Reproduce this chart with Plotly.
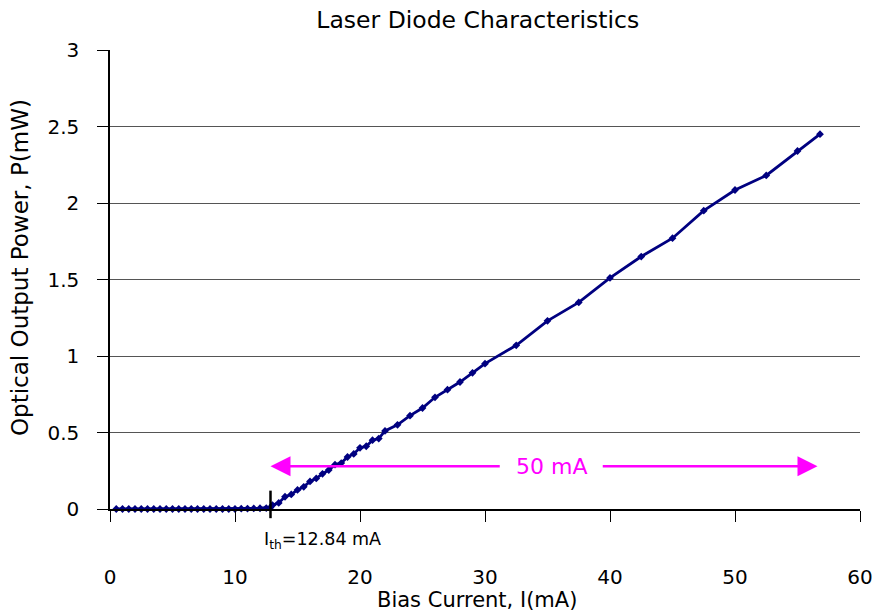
import plotly.graph_objects as go

# Bias current (mA) and optical output power (mW)
current_mA = [0.5, 1.0, 1.5, 2.0, 2.5, 3.0, 3.5, 4.0, 4.5, 5.0, 5.5, 6.0, 6.5, 7.0,
              7.5, 8.0, 8.5, 9.0, 9.5, 10.0, 10.5, 11.0, 11.5, 12.0, 12.5, 12.84,
              13.0, 13.5, 14.0, 14.5, 15.0, 15.5, 16.0, 16.5, 17.0, 17.5, 18.0, 18.5,
              19.0, 19.5, 20.0, 20.5, 21.0, 21.5, 22.0, 23.0, 24.0, 25.0, 26.0, 27.0,
              28.0, 29.0, 30.0, 32.5, 35.0, 37.5, 40.0, 42.5, 45.0, 47.5, 50.0, 52.5,
              55.0, 56.8]
power_mW = [0, 0, 0, 0, 0, 0, 0, 0, 0, 0, 0, 0, 0, 0,
            0, 0, 0, 0, 0, 0, 0.002, 0.003, 0.004, 0.005, 0.006, 0.01,
            0.025, 0.04, 0.08, 0.095, 0.125, 0.145, 0.18, 0.2, 0.23, 0.255, 0.29, 0.30,
            0.34, 0.36, 0.40, 0.41, 0.45, 0.46, 0.51, 0.55, 0.61, 0.66, 0.73, 0.78,
            0.83, 0.89, 0.95, 1.07, 1.23, 1.35, 1.51, 1.65, 1.77, 1.95, 2.085, 2.18,
            2.34, 2.45]

x_ticks = [0, 10, 20, 30, 40, 50, 60]
y_ticks = [0, 0.5, 1, 1.5, 2, 2.5, 3]
y_tick_text = ["0", "0.5", "1", "1.5", "2", "2.5", "3"]

threshold_mA = 12.84
span_end_mA = 56.6
span_y = 0.28
span_label_x = 35.3

FONT = "DejaVu Sans, Liberation Sans, Arial, sans-serif"
NAVY = "#000080"
MAGENTA = "#FF00FF"

fig = go.Figure()
fig.add_trace(go.Scatter(
    x=current_mA, y=power_mW, mode="lines+markers",
    line=dict(color=NAVY, width=2.8),
    marker=dict(symbol="diamond", size=6, color=NAVY),
    showlegend=False, cliponaxis=False,
))

# threshold marker
fig.add_shape(type="line", xref="x", yref="paper",
              x0=threshold_mA, x1=threshold_mA, y0=-0.02, y1=0.04,
              line=dict(color="black", width=2.5))

# span arrows
fig.add_annotation(x=threshold_mA, y=span_y, ax=31.3, ay=span_y, axref="x", ayref="y",
                   xref="x", yref="y", text="", showarrow=True,
                   arrowhead=2, arrowsize=1.6, arrowwidth=2.5, arrowcolor=MAGENTA)
fig.add_annotation(x=span_end_mA, y=span_y, ax=39.3, ay=span_y, axref="x", ayref="y",
                   xref="x", yref="y", text="", showarrow=True,
                   arrowhead=2, arrowsize=1.6, arrowwidth=2.5, arrowcolor=MAGENTA)
fig.add_annotation(x=span_label_x, y=span_y, xref="x", yref="y", text="50 mA",
                   showarrow=False, font=dict(family=FONT, size=22, color=MAGENTA))

fig.add_annotation(x=threshold_mA, y=-0.068, xref="x", yref="paper", xanchor="left",
                   yanchor="middle", xshift=-9, text="I<sub>th</sub>=12.84 mA",
                   showarrow=False, font=dict(family=FONT, size=17.5, color="black"))

# axis titles
fig.add_annotation(x=0.489, y=-0.198, xref="paper", yref="paper", xanchor="center",
                   yanchor="middle", text="Bias Current, I(mA)", showarrow=False,
                   font=dict(family=FONT, size=21, color="black"))
fig.add_annotation(x=-0.12, y=0.525, xref="paper", yref="paper", xanchor="center",
                   yanchor="middle", textangle=-90, text="Optical Output Power, P(mW)",
                   showarrow=False, font=dict(family=FONT, size=23, color="black"))

fig.update_layout(
    width=875, height=612,
    margin=dict(l=110, r=15, t=50, b=103, autoexpand=False),
    paper_bgcolor="white", plot_bgcolor="white",
    title=dict(text="Laser Diode Characteristics", x=0.546, xanchor="center",
               y=0.967, yanchor="middle", font=dict(family=FONT, size=23.5, color="black")),
    font=dict(family=FONT, color="black"),
)
fig.update_xaxes(
    range=[0, 60], tickvals=x_ticks, showgrid=False, zeroline=False, automargin=False,
    showline=True, linecolor="black", linewidth=1.5,
    ticks="outside", ticklen=11, tickcolor="black", tickwidth=1,
    ticklabelstandoff=38, tickfont=dict(family=FONT, size=20),
)
fig.update_yaxes(
    range=[0, 3], tickvals=y_ticks, ticktext=y_tick_text, automargin=False,
    showgrid=True, gridcolor="#555555", gridwidth=1, zeroline=False,
    showline=True, linecolor="black", linewidth=1.5,
    ticks="outside", ticklen=11, tickcolor="black", tickwidth=1,
    ticklabelstandoff=14, tickfont=dict(family=FONT, size=20),
)

fig.write_html("out.html")
